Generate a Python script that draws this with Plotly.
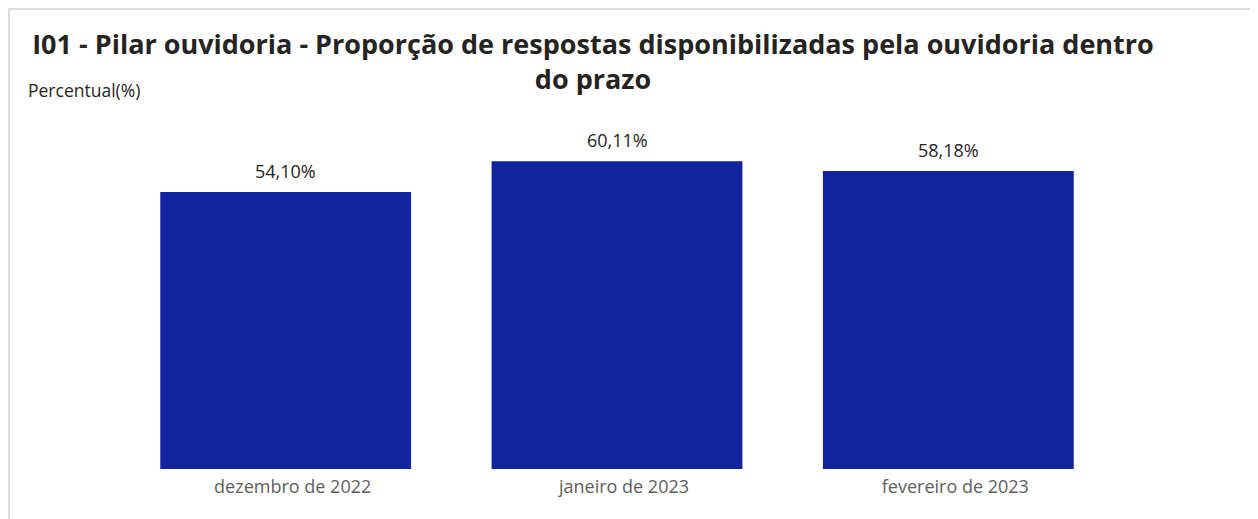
import plotly.graph_objects as go

# data
meses = ["dezembro de 2022", "janeiro de 2023", "fevereiro de 2023"]
percentual = [54.10, 60.11, 58.18]
rotulos = ["54,10%", "60,11%", "58,18%"]

# the page puts the figure 8px in from the top-left corner
OFF = 8
W, H = 1258 - OFF, 519 - OFF
ml, mr, mt, mb = 120 - OFF, 144, 120 - OFF, 50
pw, ph = W - ml - mr, H - mt - mb


def px(x):
    # page x -> paper x
    return (x - OFF - ml) / pw


def py(y):
    # page y -> paper y
    return 1 - (y - OFF - mt) / ph


fig = go.Figure()
fig.add_trace(go.Bar(
    x=meses, y=percentual,
    marker=dict(color="#12239E", line=dict(width=0)),
    cliponaxis=False, hoverinfo="skip", width=0.757,
))

# data labels above each bar
for m, v, t in zip(meses, percentual, rotulos):
    fig.add_annotation(x=m, y=v, text=t, showarrow=False, yanchor="bottom", yshift=7,
                       font=dict(color="#252423", size=18, family="Open Sans"))

# card border (light gray frame)
fig.add_shape(type="rect", xref="paper", yref="paper",
              x0=px(OFF + 1), x1=px(1251), y0=py(530), y1=py(OFF + 1),
              line=dict(color="#dcdcdc", width=2), fillcolor="rgba(0,0,0,0)", layer="below")

fig.add_annotation(xref="paper", yref="paper", x=px(26), y=py(90), xanchor="left", yanchor="middle",
                   text="Percentual(%)", showarrow=False,
                   font=dict(family="Open Sans", size=17.5, color="#252423"))

fig.update_layout(
    width=W, height=H,
    margin=dict(l=ml, r=mr, t=mt, b=mb),
    paper_bgcolor="white", plot_bgcolor="white",
    title=dict(text="<b>I01 - Pilar ouvidoria - Proporção de respostas disponibilizadas pela ouvidoria dentro<br>do prazo</b>",
               x=px(593), xanchor="center", xref="paper", y=1 - 46 / H, yanchor="middle",
               font=dict(family="Open Sans", size=27, color="#252423")),
    showlegend=False,
    bargap=0.243,
    xaxis=dict(showgrid=False, showline=False, zeroline=False, ticks="", ticklabelstandoff=5,
               ticklabelshift=7,
               tickfont=dict(family="Open Sans", size=18, color="#605E5C")),
    yaxis=dict(visible=False, range=[0, ph / 5.12], fixedrange=True),
)

fig.write_html("out.html")
